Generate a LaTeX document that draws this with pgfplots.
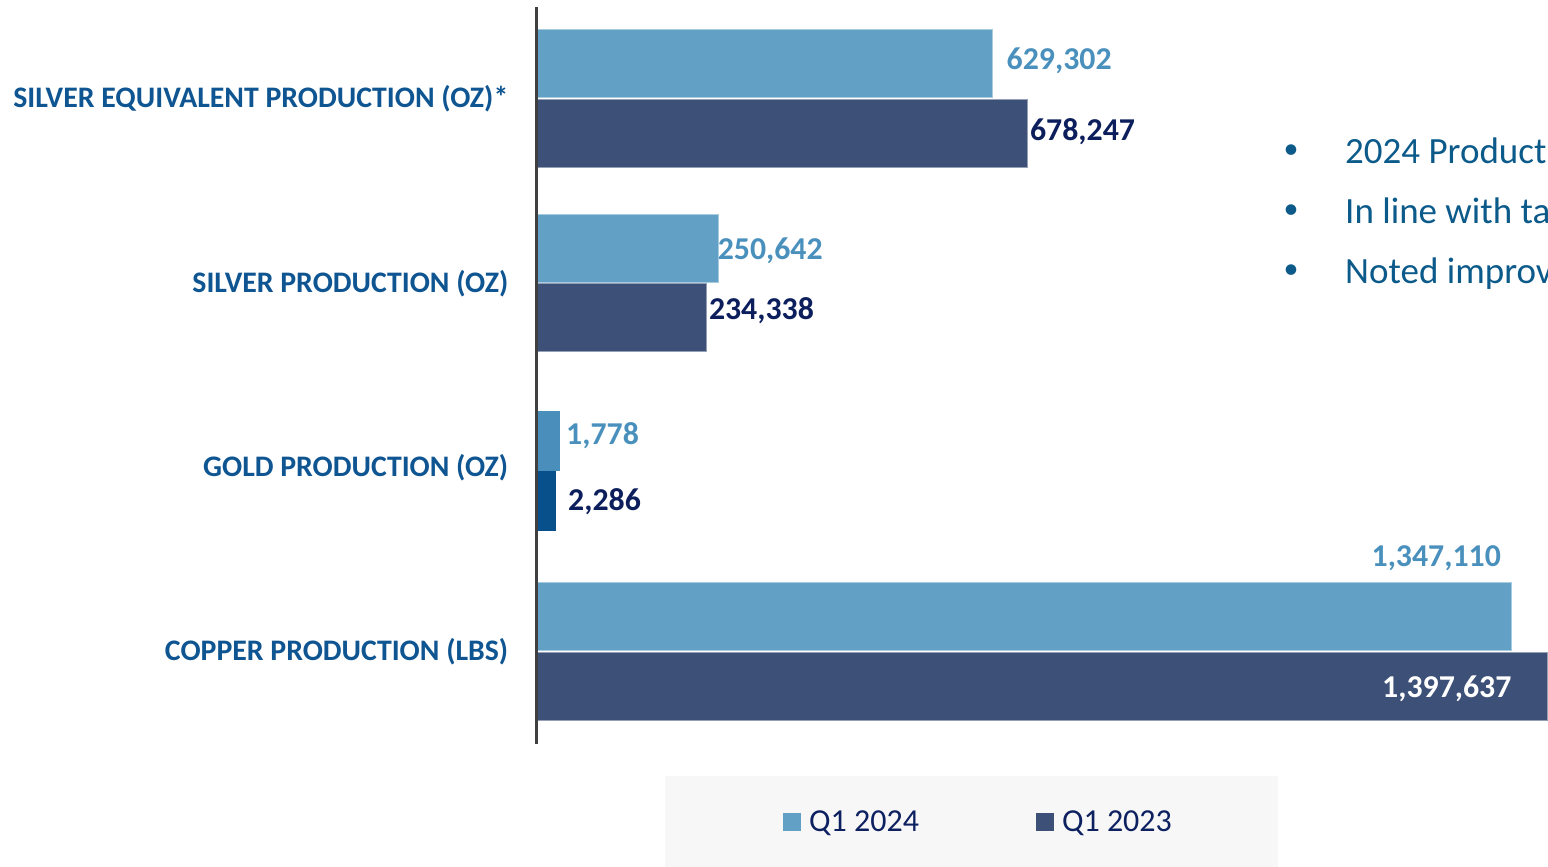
\documentclass[border=0pt]{standalone}
\usepackage{fontspec}
\setmainfont{Carlito}
\usepackage{pgfplots}
\usepackage{pgfplotstable}
\pgfplotsset{compat=1.18}
\definecolor{c24}{HTML}{62A1C5}
\definecolor{c23}{HTML}{3D5078}
\definecolor{g24}{HTML}{4A8FBB}
\definecolor{g23}{HTML}{08508C}
\definecolor{l24}{HTML}{4A90BD}
\definecolor{l23}{HTML}{0C1F5C}
\definecolor{cat}{HTML}{0E5592}
\definecolor{bul}{HTML}{0B5A8A}
\definecolor{axl}{HTML}{404040}
\definecolor{legbg}{HTML}{F7F7F7}
\definecolor{legtx}{HTML}{0D2060}

% x = bar value, y = category (3 = silver eq., 2 = silver, 1 = gold, 0 = copper)
\pgfplotstableread{
x y label dx dy
629302 3 629,302 14 4
250642 2 250,642 -1 -1
}\tblA
\pgfplotstableread{
x y label dx dy
1347110 0 1,347,110 -10 60
}\tblAc
\pgfplotstableread{
x y label dx dy
678247 3 678,247 2 2.5
234338 2 234,338 2 8.5
}\tblB
\pgfplotstableread{
x y label dx dy
1397637 0 1,397,637 -36 -1
}\tblBc
% gold bars are drawn on their own (visual) scale in the original
\pgfplotstableread{
x y label dx dy
31800 1 1,778 6 7
}\tblGA
\pgfplotstableread{
x y label dx dy
26300 1 2,286 12 1
}\tblGB

\pgfplotsset{
  vlab/.style 2 args={
    point meta=explicit symbolic,
    nodes near coords,
    visualization depends on={\thisrow{dx} \as \dx},
    visualization depends on={\thisrow{dy} \as \dy},
    nodes near coords style={anchor=base #1, xshift=\dx pt, yshift=\dy pt-10pt,
      inner sep=0pt, font=\bfseries\fontsize{31.8}{36}\selectfont, text=#2},
  },
}

\begin{document}
\begin{tikzpicture}
\useasboundingbox (0,0) rectangle (1548pt,-867pt);
\fill[legbg] (665pt,-776pt) rectangle (1278pt,-870pt);
\begin{axis}[
  at={(537pt,-744pt)}, anchor=south west,
  scale only axis, width=1011pt, height=737pt,
  xmin=0, xmax=1397700, ymin=-0.5, ymax=3.5,
  xbar,
  axis x line=none, axis y line*=left,
  y axis line style={draw=axl, line width=3pt},
  ytick={0,1,2,3},
  yticklabels={COPPER PRODUCTION (LBS), GOLD PRODUCTION (OZ), SILVER PRODUCTION (OZ), SILVER EQUIVALENT PRODUCTION (OZ)*},
  yticklabel style={font=\bfseries\fontsize{29.8}{34}\selectfont, text=cat, anchor=east, inner sep=0pt, xshift=-28.5pt},
  major tick length=0pt,
  ytick style={draw=none},
  axis on top,
  legend style={at={(axis description cs:0.2433,-0.1058)}, anchor=west, draw=none, fill=none,
    inner sep=0pt, font=\fontsize{32}{38}\selectfont, text=legtx, legend columns=2,
    nodes={inner sep=0pt},
    /tikz/every odd column/.append style={column sep=8pt},
    /tikz/every even column/.append style={column sep=117pt},
    cells={anchor=west}},
]
\addplot[fill=c24, draw=c24!55!white, line width=1pt, bar width=68pt, bar shift=35.2pt, vlab={west}{l24},
  legend image code/.code={\fill[c24] (0pt,-8.5pt) rectangle (17pt,8.5pt);}]
  table[x=x, y=y, meta=label] {\tblA};
\addlegendentry{Q1 2024}
\addplot[fill=c23, draw=c23!55!white, line width=1pt, bar width=68pt, bar shift=-34.3pt, vlab={west}{l23},
  legend image code/.code={\fill[c23] (0pt,-8.5pt) rectangle (17pt,8.5pt);}]
  table[x=x, y=y, meta=label] {\tblB};
\addlegendentry{Q1 2023}
\addplot[forget plot, fill=c24, draw=c24!55!white, line width=1pt, bar width=68pt, bar shift=35.2pt, vlab={east}{l24}]
  table[x=x, y=y, meta=label] {\tblAc};
\addplot[forget plot, fill=c23, draw=c23!55!white, line width=1pt, bar width=68pt, bar shift=-34.3pt, vlab={east}{white}]
  table[x=x, y=y, meta=label] {\tblBc};
\addplot[forget plot, fill=g24, draw=none, bar width=60pt, bar shift=26.6pt, vlab={west}{l24}]
  table[x=x, y=y, meta=label] {\tblGA};
\addplot[forget plot, fill=g23, draw=none, bar width=60pt, bar shift=-33.4pt, vlab={west}{l23}]
  table[x=x, y=y, meta=label] {\tblGB};
\end{axis}
\begin{scope}[every node/.style={inner sep=0pt, text=bul, font=\fontsize{37}{44}\selectfont}]
\node[anchor=center, font=\fontsize{30}{36}\selectfont] at (1291pt,-152pt) {\textbullet};
\node[anchor=center, font=\fontsize{30}{36}\selectfont] at (1291pt,-212pt) {\textbullet};
\node[anchor=center, font=\fontsize{30}{36}\selectfont] at (1291pt,-272pt) {\textbullet};
\node[anchor=base west] at (1345pt,-163.7pt) {2024 Product};
\node[anchor=base west] at (1345pt,-223.7pt) {In line with ta};
\node[anchor=base west] at (1345pt,-283.7pt) {Noted improv};
\end{scope}
\end{tikzpicture}
\end{document}
